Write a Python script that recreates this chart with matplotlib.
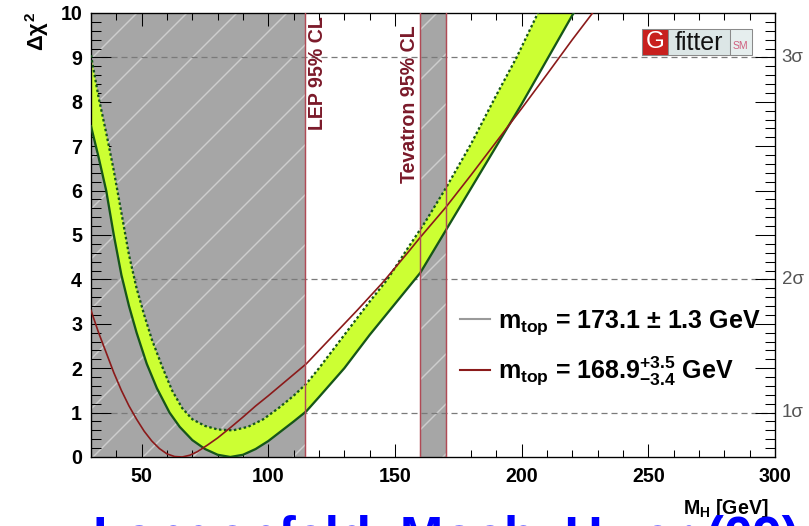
import matplotlib.pyplot as plt
from matplotlib.lines import Line2D
from matplotlib.patches import Rectangle
from matplotlib.ticker import MultipleLocator

# lower (solid) edge of the m_top = 173.1 GeV band
mh_solid = [30, 33, 36, 39, 42, 45, 48, 52, 56, 61, 65, 70, 75, 80, 85, 90, 95,
            100, 105, 110, 115, 120, 130, 140, 150, 160, 170, 180, 190, 200, 210,
            220, 225]
chi2_solid = [7.45, 6.75, 6.0, 5.0, 4.1, 3.4, 2.8, 2.1, 1.55, 1.0, 0.68, 0.38,
              0.18, 0.05, 0.0, 0.05, 0.18, 0.36, 0.58, 0.8, 1.03, 1.35, 2.0,
              2.75, 3.45, 4.15, 5.1, 6.05, 7.0, 7.95, 8.95, 9.95, 10.4]

# upper (dotted) edge of the band
mh_dotted = [30, 33, 36, 39, 42, 45, 48, 51, 54, 58, 62, 66, 70, 75, 80, 86, 92,
             98, 104, 110, 115, 120, 130, 140, 147, 155, 162, 170, 180, 190, 198,
             206, 210]
chi2_dotted = [9.05, 8.1, 7.3, 6.45, 5.5, 4.55, 3.8, 3.2, 2.65, 2.05, 1.5, 1.1,
               0.85, 0.7, 0.62, 0.6, 0.68, 0.85, 1.1, 1.38, 1.65, 2.0, 2.75, 3.5,
               4.0, 4.7, 5.3, 6.05, 7.05, 8.15, 9.0, 9.95, 10.4]

# m_top = 168.9 GeV (MSbar) scan
mh_red = [30, 33, 36, 39, 42, 45, 48, 51, 54, 57, 60, 63, 66, 69, 72, 76, 80, 85,
          90, 95, 100, 105, 110, 115, 125, 135, 145, 155, 160, 170, 180, 190, 200,
          210, 220, 230]
chi2_red = [3.3, 2.8, 2.35, 1.9, 1.5, 1.15, 0.85, 0.58, 0.36, 0.19, 0.07, 0.01,
            0.0, 0.04, 0.12, 0.27, 0.43, 0.66, 0.9, 1.15, 1.38, 1.62, 1.86, 2.1,
            2.7, 3.3, 3.92, 4.6, 4.95, 5.62, 6.35, 7.1, 7.85, 8.62, 9.4, 10.15]

lep_limit = 114.4
tevatron_low, tevatron_high = 160, 170
sigma_levels = [1, 4, 9]
sigma_labels = ["1σ", "2σ", "3σ"]
legend_labels = [r"m$_{\mathbf{top}}$ = 173.1 $\pm$ 1.3 GeV",
                 r"m$_{\mathbf{top}}$ = $168.9^{+3.5}_{-3.4}$ GeV"]

plt.rcParams["font.family"] = ["Liberation Sans", "DejaVu Sans"]
plt.rcParams["mathtext.fontset"] = "custom"
plt.rcParams["mathtext.rm"] = "Liberation Sans:bold"
plt.rcParams["mathtext.it"] = "Liberation Sans:bold"
plt.rcParams["mathtext.bf"] = "Liberation Sans:bold"
plt.rcParams["hatch.linewidth"] = 0.7
plt.rcParams["lines.scale_dashes"] = False

fig = plt.figure(figsize=(809 / 150, 526 / 150), dpi=150)
ax = fig.add_axes([91 / 809, 69 / 526, 684 / 809, 444 / 526])

gray = "#a6a6a6"
for lo, hi in [(30, lep_limit), (tevatron_low, tevatron_high)]:
    ax.axvspan(lo, hi, facecolor=gray, edgecolor="#cdcdcd", hatch="/",
               linewidth=0, zorder=1)

for level in sigma_levels:
    ax.axhline(level, color="#7a7a7a", lw=0.6, ls=(0, (2.9, 1.9)), zorder=1.5)

band_x = mh_solid + mh_dotted[::-1]
band_y = chi2_solid + chi2_dotted[::-1]
ax.fill(band_x, band_y, color="#ccff33", lw=0, zorder=2)
ax.plot(mh_solid, chi2_solid, color="#16561a", lw=1.1, zorder=3)
ax.plot(mh_dotted, chi2_dotted, color="#16561a", lw=1.1,
        ls=(0, (1.2, 1.2)), zorder=3)
ax.plot(mh_red, chi2_red, color="#8b1a1a", lw=0.8, zorder=4)

for xv in [lep_limit, tevatron_low, tevatron_high]:
    ax.axvline(xv, color="#b04a55", lw=0.7, zorder=5)

ax.text(119.6, 9.93, "LEP 95% CL", rotation=90, ha="center", va="top",
        color="#7b1a2a", fontsize=9.4, fontweight="bold", zorder=6)
ax.text(155.7, 9.73, "Tevatron 95% CL", rotation=90, ha="center", va="top",
        color="#7b1a2a", fontsize=9.4, fontweight="bold", zorder=6)

ax.set_xlim(30, 300)
ax.set_ylim(0, 10)
ax.xaxis.set_major_locator(MultipleLocator(50))
ax.xaxis.set_minor_locator(MultipleLocator(10))
ax.yaxis.set_major_locator(MultipleLocator(1))
ax.yaxis.set_minor_locator(MultipleLocator(0.2))
ax.tick_params(which="both", direction="in", top=True, right=True, width=0.5)
ax.tick_params(axis="x", which="major", length=6.2, pad=4.8)
ax.tick_params(axis="x", which="minor", length=3.4)
ax.tick_params(axis="y", which="major", length=9.6, pad=4.3)
ax.tick_params(axis="y", which="minor", length=4.8)
for lab in ax.get_xticklabels() + ax.get_yticklabels():
    lab.set_fontweight("bold")
    lab.set_fontsize(9.4)
for sp in ax.spines.values():
    sp.set_linewidth(0.65)

for level, lab in zip(sigma_levels, sigma_labels):
    ax.text(1.01, level, lab, transform=ax.get_yaxis_transform(), ha="left",
            va="center", color="#555555", fontsize=9)

handles = [Line2D([], [], color="#9a9a9a", lw=1.0),
           Line2D([], [], color="#8b1a1a", lw=1.0)]
ax.legend(handles, legend_labels, loc="upper left", bbox_to_anchor=(0.5395, 0.335),
          frameon=False, borderpad=0, borderaxespad=0, handlelength=1.2,
          handletextpad=0.32, labelspacing=0.7,
          prop={"size": 12, "weight": "bold"})

ax.set_xlabel(r"M$_{\mathbf{H}}$ [GeV]", fontsize=9.4, fontweight="bold",
              ha="right", va="top")
ax.xaxis.set_label_coords(0.99, -0.09)
fig.text(37 / 809, 0.977, r"$\Delta\chi^{2}$", rotation=90, ha="center",
         va="top", fontsize=10.5)

# Gfitter logo
logo = [(0.806, 0.844, "#c8201e"), (0.844, 0.934, "#dce6e6"),
        (0.934, 0.966, "#e6eeee")]
for x0, x1, fc in logo:
    ax.add_patch(Rectangle((x0, 0.905), x1 - x0, 0.059, transform=ax.transAxes,
                           facecolor=fc, edgecolor="#8a8a8a", lw=0.5,
                           clip_on=False, zorder=7))
ax.text(0.825, 0.934, "G", transform=ax.transAxes, ha="center", va="center",
        color="white", fontsize=11.5, zorder=8)
ax.text(0.889, 0.932, "fitter", transform=ax.transAxes, ha="center",
        va="center", color="#111111", fontsize=12, zorder=8)
ax.text(0.950, 0.925, "SM", transform=ax.transAxes, ha="center", va="center",
        color="#d06080", fontsize=5, zorder=8)

fig.text(93 / 809, -0.0513, "Langenfeld, Moch, Uwer (09)", fontsize=25,
         fontweight="bold", color="#0000ff", ha="left", va="baseline")

fig.savefig("out.png", dpi=150)
